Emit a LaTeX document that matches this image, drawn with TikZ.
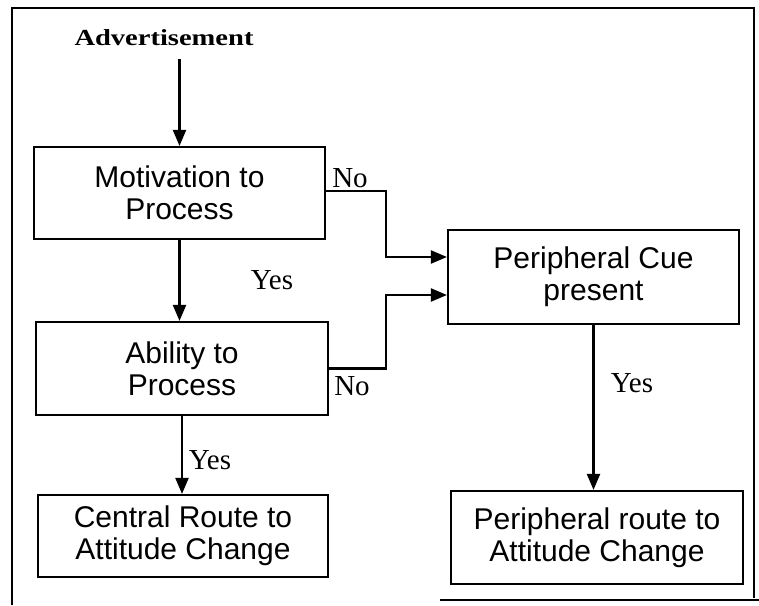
\documentclass[tikz,border=0pt]{standalone}
\usepackage{fontspec}
\usepackage{graphicx}
\newfontfamily\arialf{Liberation Sans}
\newfontfamily\timesf{Liberation Serif}
\usetikzlibrary{arrows.meta}
\begin{document}
\begin{tikzpicture}[x=1pt,y=-1pt,
  box/.style={draw, line width=2.2pt, inner sep=0pt, align=center,
    font={\arialf\fontsize{30}{32}\selectfont}},
  lbl/.style={inner sep=0pt, font={\timesf\fontsize{29}{31}\selectfont}},
  conn/.style={line width=2.2pt},
  arr/.style={conn, -{Triangle[length=16pt,width=13pt]}}]
\useasboundingbox (0,0) rectangle (759,605);
% frame
\draw[line width=2.2pt] (12,605) |- (754,8) -- (754,598);
\draw[line width=2.2pt] (440,600) -- (759,600);
% nodes
\node (adv) at (164,38) [inner sep=0pt, font={\timesf\bfseries\fontsize{23}{25}\selectfont}] {\scalebox{1.24}[1]{Advertisement}};
\node[box, minimum width=291pt, minimum height=92pt] (mot) at (179.5,193) {Motivation to\\Process};
\node[box, minimum width=292pt, minimum height=93pt] (abi) at (182,368.5) {Ability to\\Process};
\node[box, minimum width=290pt, minimum height=82pt] (cen) at (183,536) {Central Route to\\Attitude Change};
\node[box, minimum width=291pt, minimum height=94pt] (cue) at (593.5,277) {Peripheral Cue\\present};
\node[box, minimum width=292pt, minimum height=93pt] (rte) at (597,537.5) {Peripheral route to\\Attitude Change};
\coordinate (jx) at (386,0);
% connectors
\draw[arr] ([yshift=-13pt]adv.south -| mot.north) -- (mot.north);
\draw[arr] (mot.south) -- (mot.south |- abi.north);
\draw[arr] (abi.south) -- (abi.south |- cen.north);
\draw[arr] (cue.south) -- (cue.south |- rte.north);
\draw[arr] ([yshift=2pt]mot.east) -- ([yshift=2pt]mot.east -| jx) |- ([yshift=20pt]cue.west);
\draw[arr] (abi.east) -- (abi.east -| jx) |- ([yshift=-18pt]cue.west);
% labels
\node[lbl] (no1) at (350,178) {No};
\node[lbl] (no2) at (352,386) {No};
\node[lbl] (yes1) at (272,280) {Yes};
\node[lbl] (yes2) at (210,460) {Yes};
\node[lbl] (yes3) at (632,383) {Yes};
\end{tikzpicture}
\end{document}
